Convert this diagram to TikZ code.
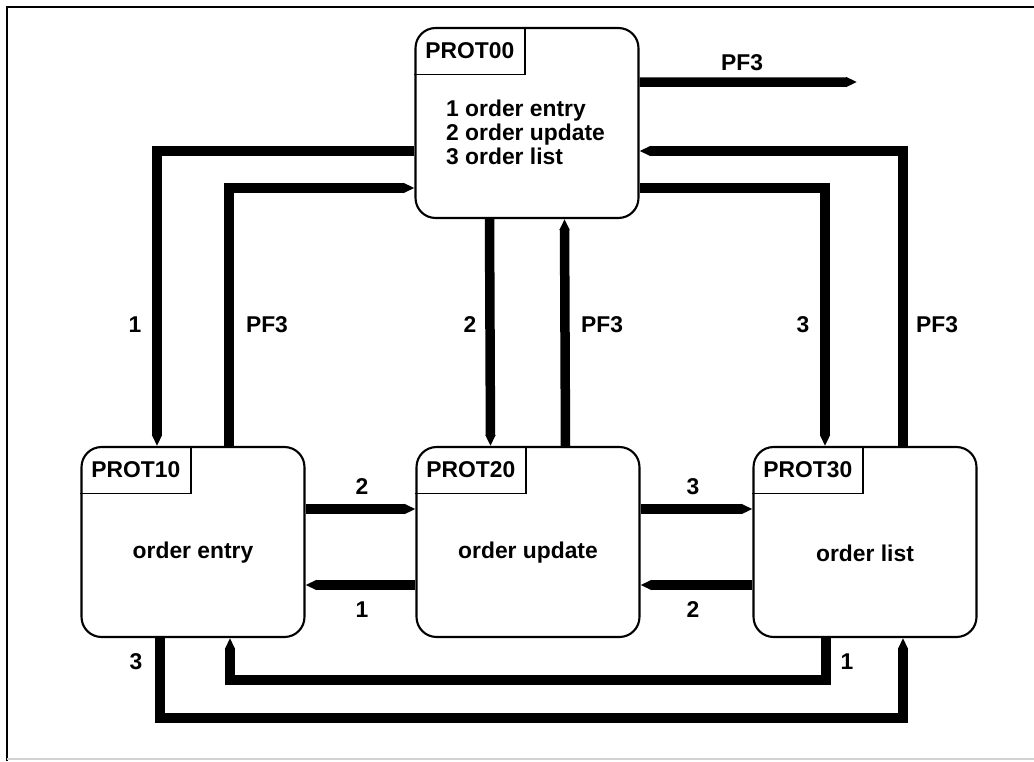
\documentclass[tikz,border=0pt]{standalone}
\usepackage{fontspec}
\setmainfont{Liberation Sans}
\usetikzlibrary{arrows.meta}

\begin{document}
\begin{tikzpicture}[x=0.02cm,y=-0.02cm,
	box/.style={draw,line width=1.2pt,rounded corners=0.4cm,minimum width=4.46cm,minimum height=3.8cm},
	tag/.style={anchor=north west,minimum width=2.2cm,minimum height=0.94cm,inner sep=0pt},
	conn/.style={line width=0.19cm,-{Triangle[length=0.22cm,width=0.19cm]}},
	lbl/.style={font=\fontsize{13}{15}\selectfont\bfseries}]
				\useasboundingbox (0,0) rectangle (1034,761);
				\draw[line width=1.6pt] (7,761) -- (7,7) -- (1034,7);
				\draw[gray!35,line width=1pt] (7,759) -- (1034,759);
				\node[box] (p00) at (527,123) {};
				\node[box] (p10) at (193,542) {};
				\node[box] (p20) at (528,542) {};
				\node[box] (p30) at (865,542) {};
				\foreach \n/\t in {p00/PROT00,p10/PROT10,p20/PROT20,p30/PROT30}{
					\node[tag,lbl] (t\n) at (\n.north west) {\t};
					\draw[line width=0.8pt] (t\n.north east) -- (t\n.south east) -- (t\n.south west);
				}
				\node[lbl,align=left,anchor=west,font=\fontsize{13}{13.7}\selectfont\bfseries] (menu) at (440,132) {1 order entry\\2 order update\\3 order list};
				\node[lbl] (e10) at ([yshift=-0.22cm]p10.center) {order entry};
				\node[lbl] (e20) at ([yshift=-0.22cm]p20.center) {order update};
				\node[lbl] (e30) at ([yshift=-0.22cm]p30.center) {order list};
				\coordinate (out) at (857,82);
				\draw[conn] ([yshift=0.82cm]p00.east) -- (out);
				\draw[conn] ([yshift=-0.56cm]p00.west) -| ([xshift=-0.72cm]p10.north);
				\draw[conn] ([xshift=0.72cm]p10.north) |- ([yshift=-1.3cm]p00.west);
				\draw[conn] ([xshift=-0.75cm]p00.south) -- ([xshift=-0.75cm]p20.north);
				\draw[conn] ([xshift=0.75cm]p20.north) -- ([xshift=0.75cm]p00.south);
				\draw[conn] ([yshift=-1.3cm]p00.east) -| ([xshift=-0.8cm]p30.north);
				\draw[conn] ([xshift=0.76cm]p30.north) |- ([yshift=-0.56cm]p00.east);
				\draw[conn] ([yshift=0.66cm]p10.east) -- ([yshift=0.66cm]p20.west);
				\draw[conn] ([yshift=-0.86cm]p20.west) -- ([yshift=-0.86cm]p10.east);
				\draw[conn] ([yshift=0.66cm]p20.east) -- ([yshift=0.66cm]p30.west);
				\draw[conn] ([yshift=-0.86cm]p30.west) -- ([yshift=-0.86cm]p20.east);
				\draw[conn] ([xshift=-0.66cm]p10.south) -- ++(0,80) -| ([xshift=0.76cm]p30.south);
				\draw[conn] ([xshift=-0.78cm]p30.south) -- ++(0,42) -| ([xshift=0.74cm]p10.south);
				\node[lbl] (l1) at (742,63) {PF3};
				\node[lbl] (l2) at (135,325) {1};
				\node[lbl] (l3) at (267,325) {PF3};
				\node[lbl] (l4) at (470,325) {2};
				\node[lbl] (l5) at (602,325) {PF3};
				\node[lbl] (l6) at (803,325) {3};
				\node[lbl] (l7) at (937,325) {PF3};
				\node[lbl] (l8) at (362,487) {2};
				\node[lbl] (l9) at (362,610) {1};
				\node[lbl] (l10) at (693,487) {3};
				\node[lbl] (l11) at (693,610) {2};
				\node[lbl] (l12) at (136,662) {3};
				\node[lbl] (l13) at (847,662) {1};
			\end{tikzpicture}
\end{document}
